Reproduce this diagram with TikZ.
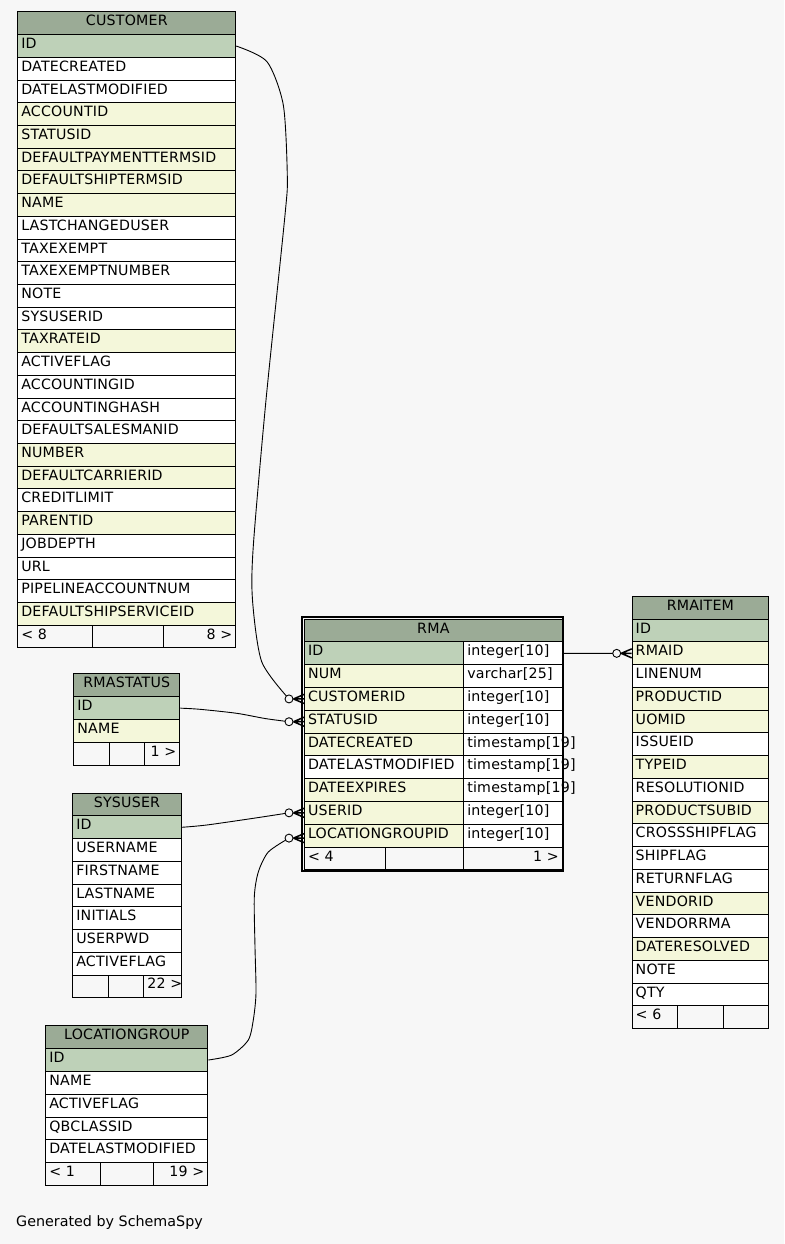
\documentclass[tikz,border=0pt]{standalone}
\usepackage{fontspec}
\setmainfont{DejaVu Sans}
\definecolor{pk}{HTML}{BED1B8}
\definecolor{fk}{HTML}{F4F7DA}
\definecolor{wh}{HTML}{FFFFFF}
\definecolor{hdrc}{HTML}{9BAB96}
\definecolor{bgc}{HTML}{F7F7F7}
\newcommand\tabfont{\fontsize{14.2}{16}\selectfont\addfontfeature{LetterSpace=1.5}}
\tikzset{
  cellbase/.style={draw=black, line width=1pt, rectangle, inner ysep=0pt, inner xsep=3.5pt,
    minimum height=\rh pt, text height=10pt, text depth=4.8pt, anchor=north west, font=\tabfont},
  conn/.style={draw=black, line width=0.9pt},
  crowline/.style={draw=black, line width=1.5pt},
  odot/.style={circle, draw=black, line width=0.9pt, fill=bgc, minimum size=8pt, inner sep=0pt},
}
% #1 prefix, #2 title, #3 x, #4 top y, #5 width, #6 rows Label/colour
\newcommand\dbtable[6]{%
  \pgfmathsetmacro\tw{#5-7}%
  \node[cellbase, fill=hdrc, minimum width=#5 pt, text width=\tw pt, align=center] (#1) at (#3,#4) {#2};
  \foreach \lab/\col [count=\i] in {#6} {
    \node[cellbase, fill=\col, minimum width=#5 pt, text width=\tw pt, align=left] (#1-\lab) at (#3,{#4+\i*\rh}) {\mbox{\lab}};
  }%
}
% #1 prefix, #2 x0, #3 x1, #4 x2, #5 x3, #6 y, #7 left, #8 right
\newcommand\dbfooter[8]{%
  \pgfmathsetmacro\wa{#3-#2}\pgfmathsetmacro\wb{#4-#3}\pgfmathsetmacro\wc{#5-#4}%
  \pgfmathsetmacro\ta{#3-#2-7}\pgfmathsetmacro\tc{#5-#4-7}%
  \node[cellbase, fill=bgc, minimum width=\wa pt, text width=\ta pt, align=left] (#1-fl) at (#2,#6) {\mbox{#7}};
  \node[cellbase, fill=bgc, minimum width=\wb pt] (#1-fm) at (#3,#6) {};
  \node[cellbase, fill=bgc, minimum width=\wc pt, text width=\tc pt, align=right] (#1-fr) at (#4,#6) {\mbox{#8}};
}
\newcommand\crowat[1]{\draw[crowline] ([xshift=-10.5pt]#1) -- ([yshift=4.5pt]#1) ([xshift=-10.5pt]#1) -- (#1) ([xshift=-10.5pt]#1) -- ([yshift=-4.5pt]#1);}
\begin{document}
\begin{tikzpicture}[x=1pt,y=-1pt]
\fill[bgc] (0,0) rectangle (784,1244);
\useasboundingbox (0,0) rectangle (784,1244);

% CUSTOMER
\def\rh{22.71}
\dbtable{cust}{CUSTOMER}{17.3}{11.5}{218}{ID/pk, DATECREATED/wh, DATELASTMODIFIED/wh, ACCOUNTID/fk, STATUSID/fk, DEFAULTPAYMENTTERMSID/fk, DEFAULTSHIPTERMSID/fk, NAME/fk, LASTCHANGEDUSER/wh, TAXEXEMPT/wh, TAXEXEMPTNUMBER/wh, NOTE/wh, SYSUSERID/wh, TAXRATEID/fk, ACTIVEFLAG/wh, ACCOUNTINGID/wh, ACCOUNTINGHASH/wh, DEFAULTSALESMANID/wh, NUMBER/fk, DEFAULTCARRIERID/fk, CREDITLIMIT/wh, PARENTID/fk, JOBDEPTH/wh, URL/wh, PIPELINEACCOUNTNUM/wh, DEFAULTSHIPSERVICEID/fk}
\dbfooter{cust}{17.3}{91.7}{163.3}{235.3}{624.7}{< 8}{8 >}

% RMASTATUS
\def\rh{22.9}
\dbtable{rmastatus}{RMASTATUS}{73.3}{673.3}{106}{ID/pk, NAME/fk}
\dbfooter{rmastatus}{73.3}{109.3}{144.3}{179.3}{742}{}{1 >}

% SYSUSER
\def\rh{22.73}
\dbtable{sysuser}{SYSUSER}{72.3}{792.7}{108.4}{ID/pk, USERNAME/wh, FIRSTNAME/wh, LASTNAME/wh, INITIALS/wh, USERPWD/wh, ACTIVEFLAG/wh}
\dbfooter{sysuser}{72.3}{108.3}{143.3}{180.7}{974.5}{}{22 >}

% LOCATIONGROUP
\def\rh{22.81}
\dbtable{locgrp}{LOCATIONGROUP}{45.3}{1025.3}{162}{ID/pk, NAME/wh, ACTIVEFLAG/wh, QBCLASSID/wh, DATELASTMODIFIED/wh}
\dbfooter{locgrp}{45.3}{100.3}{153.3}{207.3}{1162.2}{< 1}{19 >}

% RMAITEM
\def\rh{22.74}
\dbtable{rmaitem}{RMAITEM}{631.7}{596}{136.3}{ID/pk, RMAID/fk, LINENUM/wh, PRODUCTID/fk, UOMID/fk, ISSUEID/wh, TYPEID/fk, RESOLUTIONID/wh, PRODUCTSUBID/fk, CROSSSHIPFLAG/wh, SHIPFLAG/wh, RETURNFLAG/wh, VENDORID/fk, VENDORRMA/wh, DATERESOLVED/fk, NOTE/wh, QTY/wh}
\dbfooter{rmaitem}{631.7}{677}{723}{768}{1005.3}{< 6}{}

% RMA
\def\rh{22.78}
\node[cellbase, fill=hdrc, minimum width=257.7pt, text width=250.7pt, align=center] (rma) at (304,618.7) {RMA};
\foreach \lab/\col/\typ [count=\i] in {ID/pk/integer[10], NUM/fk/varchar[25], CUSTOMERID/fk/integer[10], STATUSID/fk/integer[10], DATECREATED/fk/timestamp[19], DATELASTMODIFIED/wh/timestamp[19], DATEEXPIRES/fk/timestamp[19], USERID/fk/integer[10], LOCATIONGROUPID/fk/integer[10]} {
  \node[cellbase, fill=\col, minimum width=159.3pt, text width=152.3pt, align=left] (rma-\lab) at (304,{618.7+\i*\rh}) {\mbox{\lab}};
  \node[cellbase, fill=wh, minimum width=98.4pt, text width=91.4pt, align=left] (rma-\lab-t) at (463.3,{618.7+\i*\rh}) {\mbox{\typ}};
}
\dbfooter{rma}{304}{385}{463.3}{561.7}{846.5}{< 4}{1 >}
\draw[line width=2pt] (302.3,616.8) rectangle (563.4,871.3);

% connector end points
\coordinate (e4) at ([yshift=-2.5pt]rma-LOCATIONGROUPID.west);
\coordinate (c1) at ([xshift=-15pt]rma-CUSTOMERID.west);
\coordinate (c2) at ([xshift=-15pt]rma-STATUSID.west);
\coordinate (c3) at ([xshift=-15pt]rma-USERID.west);
\coordinate (c4) at ([xshift=-15pt]e4);
\coordinate (c5) at ([xshift=-15pt]rmaitem-RMAID.west);

% connectors
\draw[conn] plot[smooth, tension=0.45] coordinates {(cust-ID.east) (267,61.7) (283.3,105) (287.3,176) (285,215) (266,400) (253.3,546) (252.5,600) (261.7,661.7) (c1)};
\draw[conn] plot[smooth, tension=0.5] coordinates {(rmastatus-ID.east) (200,709.3) (236.7,713.3) (265,718.5) (c2)};
\draw[conn] plot[smooth, tension=0.5] coordinates {(sysuser-ID.east) (206.7,825) (253.3,818.3) (c3)};
\draw[conn] plot[smooth, tension=0.45] coordinates {(locgrp-ID.east) (231.7,1055) (248.3,1040) (253.3,1020) (256,993) (255,947) (254.3,897) (258.3,872) (268.3,852) (c4)};
\draw[conn] (rma-ID-t.east) -- (c5);

% optional-many ends
\node[odot] (o1) at (c1) {};
\node[odot] (o2) at (c2) {};
\node[odot] (o3) at (c3) {};
\node[odot] (o4) at (c4) {};
\node[odot] (o5) at (c5) {};
\crowat{rma-CUSTOMERID.west}
\crowat{rma-STATUSID.west}
\crowat{rma-USERID.west}
\crowat{e4}
\crowat{rmaitem-RMAID.west}

\node[anchor=base west, inner sep=0pt, font=\fontsize{14.3}{16}\selectfont] (gen) at (16,1226.5) {Generated by SchemaSpy};
\end{tikzpicture}
\end{document}
